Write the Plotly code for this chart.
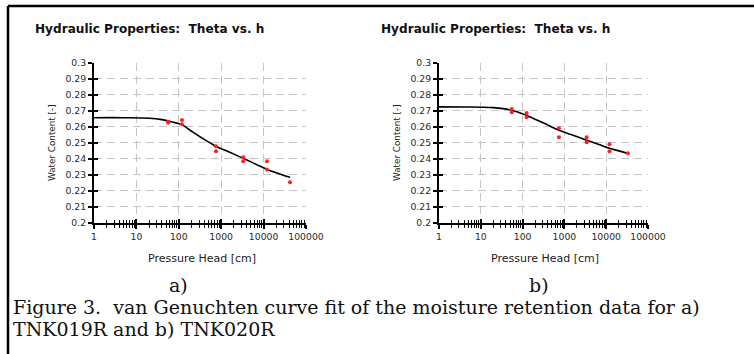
import plotly.graph_objects as go

# ---------------- data ----------------
# (a) TNK019R
points_a_h = [56, 56, 119, 119, 754, 754, 3300, 3300, 12000, 12000, 42000]
points_a_theta = [0.2632, 0.2626, 0.2642, 0.2616, 0.2478, 0.2447, 0.2409, 0.2384, 0.2384, 0.2333, 0.2252]
curve_a_h = [1, 5, 20, 40, 70, 120, 200, 350, 750, 1500, 3300, 7000, 12000, 25000, 42000]
curve_a_theta = [0.2657, 0.2657, 0.2654, 0.2645, 0.2630, 0.2612, 0.2572, 0.2530, 0.2478, 0.2443,
                 0.2403, 0.2362, 0.2333, 0.2303, 0.2283]

# (b) TNK020R
points_b_h = [55, 55, 125, 125, 740, 740, 3400, 3400, 12000, 12000, 33000]
points_b_theta = [0.2711, 0.2692, 0.2686, 0.2660, 0.2591, 0.2535, 0.2535, 0.2503, 0.2490, 0.2447, 0.2434]
curve_b_h = [1, 5, 10, 20, 55, 120, 300, 740, 1500, 3400, 7000, 12000, 20000, 33000]
curve_b_theta = [0.2725, 0.2724, 0.2723, 0.2720, 0.2704, 0.2673, 0.2627, 0.2579, 0.2550, 0.2516,
                 0.2487, 0.2465, 0.2449, 0.2432]

x_tick_vals = [1, 10, 100, 1000, 10000, 100000]
x_tick_text = ["1", "10", "100", "1000", "10000", "100000"]
y_tick_vals = [0.2, 0.21, 0.22, 0.23, 0.24, 0.25, 0.26, 0.27, 0.28, 0.29, 0.3]
y_tick_text = ["0.2", "0.21", "0.22", "0.23", "0.24", "0.25", "0.26", "0.27", "0.28", "0.29", "0.3"]

chart_title = "Hydraulic Properties:  Theta vs. h"
x_title = "Pressure Head [cm]"
y_title = "Water Content [-]"
panel_labels = ["a)", "b)"]
caption_lines = ["Figure 3.  van Genuchten curve fit of the moisture retention data for a)",
                 "TNK019R and b) TNK020R"]

# ---------------- layout helpers ----------------
W, H = 754, 354
def px(x):
    return x / W
def py(y):
    return 1 - y / H

minor_vals = [m * 10 ** k for k in range(0, 5) for m in range(2, 10)]
GRID = "#c4c4c4"
TICKFONT = dict(family="DejaVu Sans", size=9.3, color="#2a2a2a")

fig = go.Figure()

panels = [
    dict(xd=[px(94), px(306)], ph=points_a_h, pt=points_a_theta, ch=curve_a_h, ct=curve_a_theta),
    dict(xd=[px(439), px(648)], ph=points_b_h, pt=points_b_theta, ch=curve_b_h, ct=curve_b_theta),
]
ydom = [py(222.5), py(63)]

layout_axes = {}
for i, p in enumerate(panels):
    main = 2 * i + 1
    over = 2 * i + 2
    xm = "x" if main == 1 else f"x{main}"
    ym = "y" if main == 1 else f"y{main}"
    xo = f"x{over}"
    yo = f"y{over}"
    fig.add_trace(go.Scatter(x=p["ch"], y=p["ct"], mode="lines", line=dict(color="black", width=1.6, shape="spline"),
                             xaxis=xm, yaxis=ym, showlegend=False, hoverinfo="skip"))
    fig.add_trace(go.Scatter(x=p["ph"], y=p["pt"], mode="markers",
                             marker=dict(color="#ff2020", size=4, symbol="circle"),
                             xaxis=xm, yaxis=ym, showlegend=False))
    # overlay axes carrying the inner half of the crossing ticks
    fig.add_trace(go.Scatter(x=[None], y=[None], mode="markers", xaxis=xo, yaxis=yo,
                             showlegend=False, hoverinfo="skip"))

    kx = "xaxis" if main == 1 else f"xaxis{main}"
    ky = "yaxis" if main == 1 else f"yaxis{main}"
    layout_axes[kx] = dict(
        type="log", range=[0, 5], domain=p["xd"], anchor=ym, automargin=False,
        showline=True, linecolor="black", linewidth=2,
        ticks="outside", ticklen=4, tickwidth=1.5, tickcolor="black",
        tickvals=x_tick_vals, ticktext=x_tick_text, tickfont=TICKFONT,
        showgrid=True, gridcolor=GRID, gridwidth=1, griddash="8px,5px", zeroline=False,
        minor=dict(tickvals=minor_vals, ticks="outside", ticklen=3, tickwidth=1, tickcolor="black", showgrid=False),
    )
    layout_axes[ky] = dict(
        range=[0.2, 0.3], domain=ydom, anchor=xm, automargin=False,
        showline=True, linecolor="black", linewidth=2,
        ticks="outside", ticklen=4, tickwidth=1.5, tickcolor="black",
        tickvals=y_tick_vals, ticktext=y_tick_text, tickfont=TICKFONT,
        showgrid=True, gridcolor=GRID, gridwidth=1, griddash="8px,5px", zeroline=False,
    )
    layout_axes[f"xaxis{over}"] = dict(
        type="log", range=[0, 5], overlaying=xm, anchor=yo, domain=p["xd"], automargin=False,
        showline=False, showgrid=False, zeroline=False, showticklabels=False,
        ticks="inside", ticklen=4, tickwidth=1.5, tickcolor="black", tickvals=x_tick_vals,
        minor=dict(tickvals=minor_vals, ticks="inside", ticklen=3, tickwidth=1, tickcolor="black", showgrid=False),
    )
    layout_axes[f"yaxis{over}"] = dict(
        range=[0.2, 0.3], overlaying=ym, anchor=xo, side="left", automargin=False,
        showline=False, showgrid=False, zeroline=False, showticklabels=False,
        ticks="inside", ticklen=4, tickwidth=1.5, tickcolor="black", tickvals=y_tick_vals,
    )

fig.update_layout(**layout_axes)

annotations = []
title_x = [33, 379]
xtitle_x = [202, 545]
ytitle_x = [52, 397]
label_x = [178, 539]
for i in range(2):
    annotations.append(dict(text=chart_title, x=px(title_x[i]), y=py(29), xref="paper", yref="paper",
                            xanchor="left", yanchor="middle", showarrow=False,
                            font=dict(family="DejaVu Sans", size=12.1, color="#111111", weight="bold")))
    annotations.append(dict(text=x_title, x=px(xtitle_x[i]), y=py(258), xref="paper", yref="paper",
                            xanchor="center", yanchor="middle", showarrow=False,
                            font=dict(family="DejaVu Sans", size=11, color="#1a1a1a")))
    annotations.append(dict(text=y_title, x=px(ytitle_x[i]), y=py(143), xref="paper", yref="paper",
                            xanchor="center", yanchor="middle", showarrow=False, textangle=-90,
                            font=dict(family="DejaVu Sans", size=8.8, color="#222222")))
    annotations.append(dict(text=panel_labels[i], x=px(label_x[i]), y=py(285), xref="paper", yref="paper",
                            xanchor="center", yanchor="middle", showarrow=False,
                            font=dict(family="DejaVu Serif", size=19, color="#111111")))
annotations.append(dict(text=caption_lines[0], x=px(11), y=py(307), xref="paper", yref="paper",
                        xanchor="left", yanchor="middle", showarrow=False,
                        font=dict(family="DejaVu Serif", size=19, color="#111111")))
annotations.append(dict(text=caption_lines[1], x=px(11), y=py(329), xref="paper", yref="paper",
                        xanchor="left", yanchor="middle", showarrow=False,
                        font=dict(family="DejaVu Serif", size=19, color="#111111")))

shapes = [
    dict(type="line", xref="paper", yref="paper", x0=px(8), x1=1, y0=py(6), y1=py(6),
         line=dict(color="black", width=2.5)),
    dict(type="line", xref="paper", yref="paper", x0=px(8), x1=px(8), y0=py(6), y1=0,
         line=dict(color="black", width=2.5)),
]

fig.update_layout(
    width=W, height=H, autosize=False,
    margin=dict(l=0, r=0, t=0, b=0, pad=0, autoexpand=False),
    paper_bgcolor="white", plot_bgcolor="white",
    annotations=annotations, shapes=shapes, showlegend=False,
)

fig.write_html(
    "out.html",
    config={"displayModeBar": False},
    post_script=(
        "document.documentElement.style.margin='0';document.documentElement.style.overflow='hidden';"
        "document.body.style.margin='0';document.body.style.overflow='hidden';"
    ),
)
